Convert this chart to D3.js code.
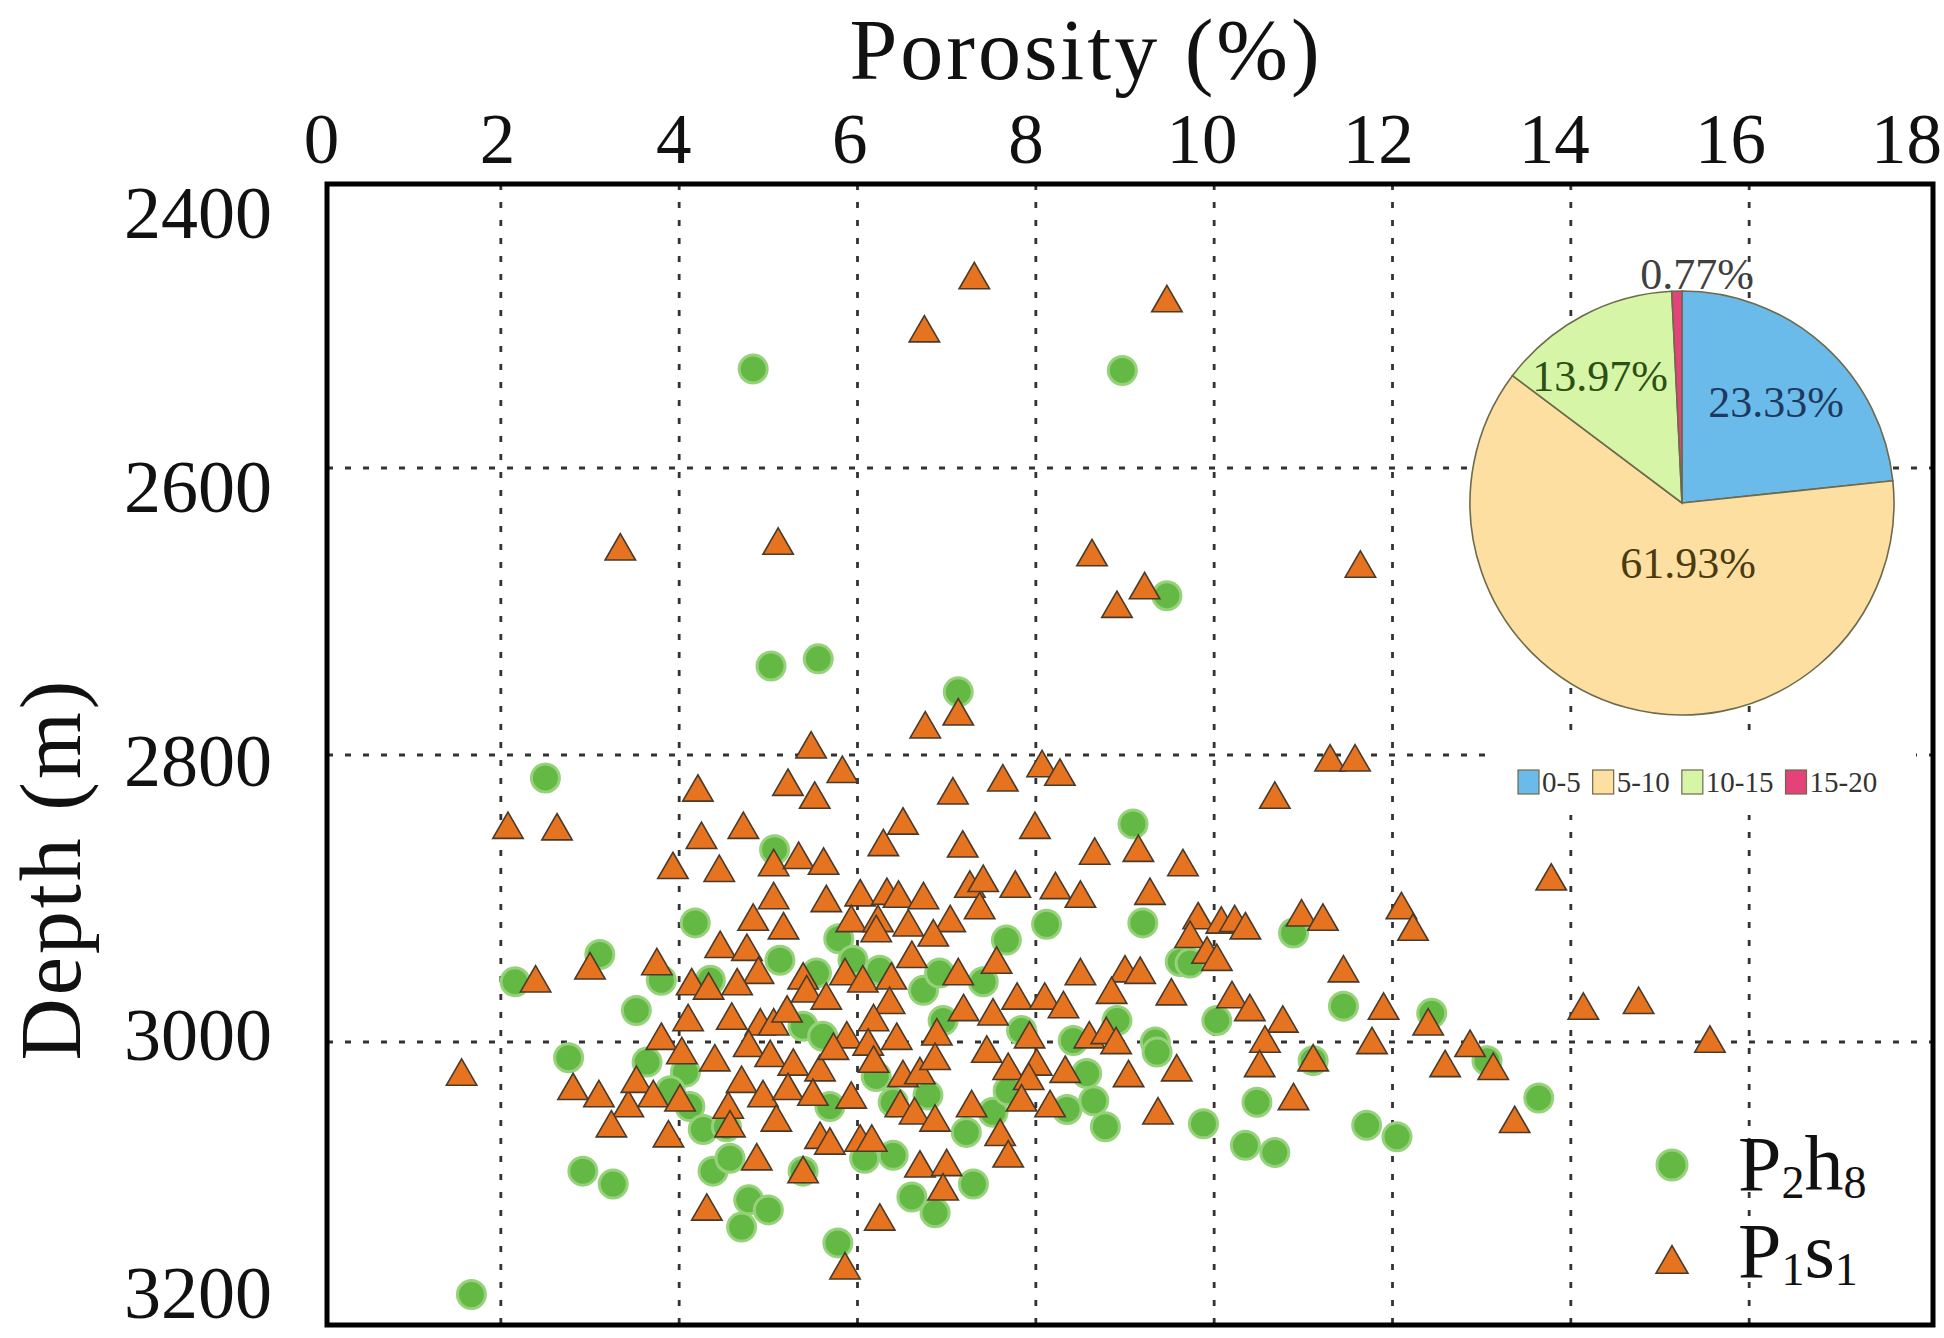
<!DOCTYPE html>
<html>
<head>
<meta charset="utf-8">
<script src="https://cdn.jsdelivr.net/npm/d3@7"></script>
<style>
  html, body { margin: 0; padding: 0; background: #fff; }
  svg { display: block; }
</style>
</head>
<body>
<div id="chart"></div>
<script>
// Porosity vs depth scatter (P2h8 / P1s1) with porosity-class pie inset

const xTicks = [0, 2, 4, 6, 8, 10, 12, 14, 16, 18];
const yTicks = [2400, 2600, 2800, 3000, 3200];

// [porosity %, depth m]
const p2h8 = [
  [4.83, 2531], [8.97, 2532], [9.47, 2689], [5.03, 2738], [5.56, 2733], [7.13, 2756], [2.50, 2816],
  [5.07, 2866], [4.18, 2917], [5.79, 2928], [3.11, 2939], [2.16, 2958], [5.13, 2943], [3.80, 2957],
  [4.35, 2957], [3.52, 2978], [5.54, 2952], [5.39, 2989], [5.61, 2996],
  [9.09, 2848], [8.12, 2918], [9.20, 2917], [7.67, 2929], [5.95, 2943], [6.74, 2964], [7.41, 2958],
  [6.92, 2952], [9.62, 2944], [9.73, 2945], [10.03, 2985], [6.96, 2985], [8.91, 2985], [7.84, 2992],
  [8.42, 2999], [9.34, 3000], [6.25, 2950],
  [10.89, 2924], [11.45, 2975], [12.44, 2980],
  [2.76, 3011], [3.64, 3014], [4.07, 3021], [3.90, 3034], [4.12, 3045], [4.27, 3061], [4.53, 3059],
  [2.92, 3090], [3.26, 3099], [4.38, 3090], [4.57, 3081], [4.78, 3110], [5.00, 3117], [4.70, 3129],
  [5.39, 3090], [5.78, 3140], [1.67, 3176], [5.69, 3045],
  [9.36, 3007], [8.57, 3022], [8.65, 3041], [8.78, 3059], [9.88, 3057], [8.35, 3047], [7.52, 3049],
  [7.22, 3063], [7.69, 3034], [6.79, 3037], [6.40, 3042], [6.08, 3081], [6.40, 3079], [7.30, 3099],
  [6.61, 3108], [6.87, 3119], [6.21, 3024],
  [11.11, 3013], [10.48, 3042], [11.71, 3058], [12.05, 3066], [10.35, 3072], [10.68, 3077],
  [13.64, 3039], [13.06, 3013]
];

const p1s1 = [
  [7.31, 2469], [9.47, 2485], [6.75, 2506], [3.34, 2658], [5.11, 2654], [8.63, 2662], [11.64, 2670],
  [9.22, 2685], [8.91, 2698], [7.13, 2773], [6.76, 2782], [5.48, 2796], [11.30, 2805], [11.58, 2805],
  [4.21, 2826], [5.22, 2822], [5.52, 2831], [5.83, 2813], [2.08, 2852], [2.63, 2853], [4.25, 2859],
  [4.72, 2852], [3.93, 2880], [4.45, 2882], [5.06, 2878], [5.34, 2873], [5.62, 2877], [5.06, 2901],
  [5.65, 2903], [4.83, 2916], [5.17, 2922], [4.46, 2935], [4.76, 2937], [4.89, 2953], [3.00, 2950],
  [2.39, 2959], [3.75, 2947], [4.14, 2961], [4.33, 2964], [4.65, 2961], [5.39, 2957], [5.43, 2966],
  [5.65, 2971], [4.10, 2986], [4.59, 2985], [4.91, 2989], [5.06, 2989], [5.21, 2980], [3.80, 2999],
  [4.78, 3004],
  [7.07, 2828], [7.63, 2819], [8.07, 2809], [8.27, 2815], [6.51, 2849], [6.29, 2864], [7.18, 2865],
  [7.99, 2852], [8.66, 2870], [9.15, 2868], [9.65, 2878], [9.28, 2898], [6.03, 2899], [6.33, 2898],
  [6.46, 2900], [6.74, 2901], [7.26, 2893], [7.41, 2889], [7.37, 2908], [7.77, 2893], [8.22, 2894],
  [8.50, 2900], [5.93, 2917], [6.23, 2917], [6.21, 2924], [6.57, 2920], [7.04, 2917], [6.85, 2927],
  [6.61, 2942], [7.56, 2946], [9.82, 2915], [10.08, 2918], [10.23, 2917], [9.73, 2928], [9.92, 2939],
  [10.03, 2944], [5.86, 2954], [6.06, 2959], [6.38, 2957], [7.13, 2954], [8.50, 2954], [9.00, 2952],
  [9.17, 2953], [6.36, 2974], [7.79, 2971], [8.10, 2971], [8.31, 2977], [8.85, 2967], [9.52, 2968],
  [10.20, 2970], [7.19, 2979], [7.52, 2982], [6.18, 2986], [6.89, 2996], [7.93, 2998], [8.60, 2998],
  [8.79, 2995], [5.88, 2998], [6.44, 2999], [6.12, 3003], [8.90, 3002],
  [10.68, 2831], [13.78, 2888], [12.10, 2908], [12.23, 2923], [10.98, 2913], [11.22, 2916],
  [10.35, 2922], [11.45, 2952], [11.90, 2978], [12.40, 2989], [10.40, 2979], [10.77, 2987],
  [10.57, 3001], [11.77, 3002], [12.87, 3004], [14.14, 2978], [14.76, 2974], [15.56, 3001],
  [10.51, 3018], [11.11, 3014], [12.59, 3018], [13.13, 3020], [10.89, 3041], [13.37, 3057],
  [1.56, 3024], [2.81, 3034], [3.10, 3039], [3.43, 3046], [3.24, 3060], [3.52, 3029], [3.71, 3039],
  [4.03, 3009], [4.01, 3042], [3.88, 3067], [4.40, 3014], [5.02, 3011], [5.28, 3017], [5.58, 3021],
  [4.70, 3029], [4.94, 3039], [5.22, 3034], [5.50, 3038], [4.55, 3047], [4.57, 3060], [5.09, 3056],
  [5.58, 3068], [5.69, 3072], [4.87, 3083], [5.39, 3092], [4.31, 3118], [5.73, 3006],
  [7.45, 3008], [7.69, 3020], [8.01, 3017], [7.92, 3027], [7.84, 3042], [8.33, 3022], [9.04, 3025],
  [9.58, 3021], [8.16, 3046], [9.37, 3051], [7.28, 3046], [7.60, 3066], [7.69, 3081], [5.93, 3040],
  [6.18, 3015], [6.51, 3025], [6.70, 3023], [6.87, 3013], [6.03, 3070], [6.16, 3070], [6.48, 3046],
  [6.64, 3051], [6.87, 3056], [6.70, 3088], [7.00, 3087], [6.96, 3104], [6.25, 3125], [5.86, 3159]
];

const poreClasses = ['0-5', '5-10', '10-15', '15-20'];
const poreShares = [23.33, 61.93, 13.97, 0.77];

const width = 1944;
const height = 1338;
const serif = '"Liberation Serif", "Times New Roman", serif';
const frame = { left: 327, top: 184, right: 1933, bottom: 1325 };

const classColor = {
  '0-5': '#6bbbea',
  '5-10': '#fddfa1',
  '10-15': '#d6f5a6',
  '15-20': '#e3427a'
};
const labelColor = {
  '0-5': '#1d3a5e',
  '5-10': '#4a3a12',
  '10-15': '#2b4f14',
  '15-20': '#404040'
};
// hand-placed label offsets from the pie centre, as in the source figure
const labelOffset = {
  '0-5': [94, -101],
  '5-10': [6, 60],
  '10-15': [-82, -127],
  '15-20': [15, -229]
};

const x = d3.scaleLinear().domain([0, 18]).range([322.5, 1927.5]);
const y = d3.scaleLinear().domain([2400, 3200]).range([181, 1329]);
// the tick labels in the source drift slightly off their grid lines
const xLabel = d3.scaleLinear().domain([0, 18]).range([321, 1906]);
const yLabel = d3.scaleLinear().domain([2400, 3200]).range([214, 1310]);

const svg = d3.select('#chart').append('svg')
  .attr('width', width)
  .attr('height', height)
  .style('background', '#fff');

// grid
const grid = svg.append('g')
  .attr('stroke', '#333')
  .attr('stroke-width', 2.8)
  .attr('stroke-dasharray', '6 12');

grid.selectAll('.vgrid')
  .data(xTicks.filter(t => t > 0 && t < 18))
  .join('line')
  .attr('class', 'vgrid')
  .attr('x1', d => x(d)).attr('x2', d => x(d))
  .attr('y1', frame.top).attr('y2', frame.bottom);

grid.selectAll('.hgrid')
  .data(yTicks.filter(t => t > 2400 && t < 3200))
  .join('line')
  .attr('class', 'hgrid')
  .attr('x1', frame.left).attr('x2', frame.right)
  .attr('y1', d => y(d)).attr('y2', d => y(d));

// pie inset
const pieCenter = [1682, 503];
const pieRadius = 212;

const pie = d3.pie().sort(null).value(d => d.share);
const arc = d3.arc().innerRadius(0).outerRadius(pieRadius);
const pieData = pie(poreClasses.map((c, i) => ({ name: c, share: poreShares[i] })));

const pieG = svg.append('g')
  .attr('transform', `translate(${pieCenter[0]},${pieCenter[1]})`);

pieG.selectAll('path')
  .data(pieData)
  .join('path')
  .attr('d', arc)
  .attr('fill', d => classColor[d.data.name])
  .attr('stroke', '#6e6a4c')
  .attr('stroke-width', 1.6);

pieG.selectAll('text')
  .data(pieData)
  .join('text')
  .attr('x', d => labelOffset[d.data.name][0])
  .attr('y', d => labelOffset[d.data.name][1])
  .attr('text-anchor', 'middle')
  .attr('dominant-baseline', 'central')
  .attr('font-family', serif)
  .attr('font-size', 44)
  .attr('fill', d => labelColor[d.data.name])
  .text(d => `${d.data.share.toFixed(2)}%`);

// class legend under the pie, on a white patch that hides the grid
svg.append('rect')
  .attr('x', 1486).attr('y', 740)
  .attr('width', 430).attr('height', 75)
  .attr('fill', '#fff');

const classLegend = svg.append('g').attr('transform', 'translate(1518, 782)');
let cursor = 0;
poreClasses.forEach(c => {
  const item = classLegend.append('g').attr('transform', `translate(${cursor},0)`);
  item.append('rect')
    .attr('x', 0).attr('y', -12)
    .attr('width', 21).attr('height', 24)
    .attr('fill', classColor[c])
    .attr('stroke', '#6e6a4c')
    .attr('stroke-width', 1.2);
  const t = item.append('text')
    .attr('x', 24)
    .attr('dy', '0.35em')
    .attr('font-family', serif)
    .attr('font-size', 29)
    .attr('fill', '#333')
    .text(c);
  cursor += 24 + t.node().getComputedTextLength() + 12;
});

// points
const plot = svg.append('g');

plot.selectAll('.p2h8')
  .data(p2h8)
  .join('circle')
  .attr('class', 'p2h8')
  .attr('cx', d => x(d[0]))
  .attr('cy', d => y(d[1]))
  .attr('r', 14)
  .attr('fill', '#64b945')
  .attr('stroke', '#96d27a')
  .attr('stroke-width', 3);

const triangle = d3.symbol(d3.symbolTriangle, 400);

plot.selectAll('.p1s1')
  .data(p1s1)
  .join('path')
  .attr('class', 'p1s1')
  .attr('d', triangle)
  .attr('transform', d => `translate(${x(d[0])},${y(d[1])})`)
  .attr('fill', '#e6731f')
  .attr('stroke', '#4a3a2a')
  .attr('stroke-width', 1.6);

// frame
svg.append('rect')
  .attr('x', frame.left).attr('y', frame.top)
  .attr('width', frame.right - frame.left)
  .attr('height', frame.bottom - frame.top)
  .attr('fill', 'none')
  .attr('stroke', '#000')
  .attr('stroke-width', 5);

// axes
const xAxis = svg.append('g')
  .attr('transform', 'translate(0,171)')
  .call(d3.axisTop(xLabel).tickValues(xTicks).tickFormat(d3.format('d')).tickSize(0).tickPadding(8));
xAxis.select('.domain').remove();
xAxis.selectAll('text')
  .attr('font-family', serif)
  .attr('font-size', 71)
  .attr('fill', '#111');

const yAxis = svg.append('g')
  .attr('transform', 'translate(280,0)')
  .call(d3.axisLeft(yLabel).tickValues(yTicks).tickFormat(d3.format('d')).tickSize(0).tickPadding(8));
yAxis.select('.domain').remove();
yAxis.selectAll('text')
  .attr('font-family', serif)
  .attr('font-size', 74)
  .attr('fill', '#111');
// keep the last depth label inside the page (it is clipped in the source)
yAxis.selectAll('.tick')
  .attr('transform', d => `translate(0,${Math.min(yLabel(d), 1294)})`);

// titles
svg.append('text')
  .attr('x', 1086).attr('y', 79)
  .attr('text-anchor', 'middle')
  .attr('font-family', serif)
  .attr('font-size', 86)
  .attr('letter-spacing', 3)
  .attr('fill', '#111')
  .text('Porosity (%)');

svg.append('text')
  .attr('transform', 'translate(80,869) rotate(-90)')
  .attr('text-anchor', 'middle')
  .attr('font-family', serif)
  .attr('font-size', 86)
  .attr('letter-spacing', 3)
  .attr('fill', '#111')
  .text('Depth (m)');

// series legend
const legend = svg.append('g').attr('transform', 'translate(1672,0)');

legend.append('circle')
  .attr('cx', 0).attr('cy', 1165)
  .attr('r', 15)
  .attr('fill', '#64b945')
  .attr('stroke', '#96d27a')
  .attr('stroke-width', 3);

legend.append('path')
  .attr('d', d3.symbol(d3.symbolTriangle, 440))
  .attr('transform', 'translate(0,1264)')
  .attr('fill', '#e6731f')
  .attr('stroke', '#4a3a2a')
  .attr('stroke-width', 1.6);

function formationLabel(yPos, parts) {
  const t = legend.append('text')
    .attr('x', 66).attr('y', yPos)
    .attr('font-family', serif)
    .attr('font-size', 78)
    .attr('fill', '#111');
  parts.forEach(([str, sub]) => {
    t.append('tspan')
      .attr('font-size', sub ? 46 : 78)
      .attr('dy', sub ? 8 : -8)
      .text(str);
  });
  t.select('tspan').attr('dy', 0);
}

formationLabel(1190, [['P', false], ['2', true], ['h', false], ['8', true]]);
formationLabel(1277, [['P', false], ['1', true], ['s', false], ['1', true]]);
</script>
</body>
</html>
